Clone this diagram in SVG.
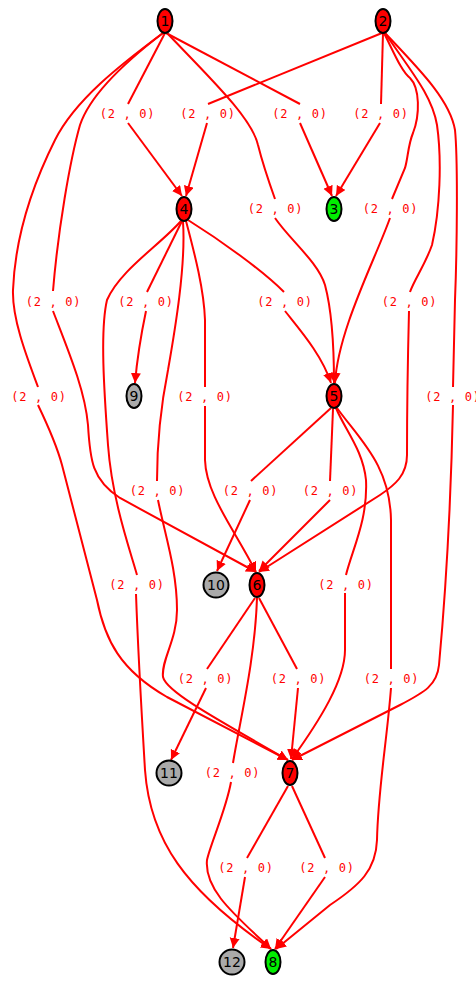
<svg xmlns="http://www.w3.org/2000/svg" width="476" height="981" viewBox="0 0 476 981">
<style>
.e{fill:none;stroke:#ff0000;stroke-width:2}
.a{marker-end:url(#arr)}
.l{font-family:"DejaVu Sans Mono","Liberation Mono",monospace;font-size:12px;fill:#ff0000;text-anchor:middle;letter-spacing:0.7px}
.n{stroke:#000;stroke-width:2}
.r{fill:#ff0000}.g{fill:#00ee00}.y{fill:#aaaaaa}
.t{font-family:"DejaVu Sans","Liberation Sans",sans-serif;font-size:14px;fill:#000;text-anchor:middle}
</style>
<defs>
<marker id="arr" markerUnits="userSpaceOnUse" markerWidth="11" markerHeight="11" refX="10" refY="5" orient="auto">
<path d="M0,0 L10,5 L0,10 z" fill="#ff0000"/>
</marker>
</defs>
<rect width="476" height="981" fill="#fff"/>
<g id="edges">
<g id="e1-4"><path class="e" d="M165,33 L128,104"/><path class="e a" d="M128,123 L182,196"/><text class="l" x="127.5" y="117.5">(2 , 0)</text></g>
<g id="e1-3"><path class="e" d="M166,33 L300,104"/><path class="e a" d="M300,123 L332,196"/><text class="l" x="300" y="117.5">(2 , 0)</text></g>
<g id="e2-4"><path class="e" d="M382,33 L208,104"/><path class="e a" d="M207,123 L186,196"/><text class="l" x="208" y="117.5">(2 , 0)</text></g>
<g id="e2-3"><path class="e" d="M383,33 L381,104"/><path class="e a" d="M380,123 L336,196"/><text class="l" x="381" y="117.5">(2 , 0)</text></g>
<g id="e1-5"><path class="e" d="M167,33 C210,78 252,118 258,145 C263,165 270,185 275,199"/><path class="e a" d="M275,218 C290,240 318,262 325,285 C333,315 334,350 334,383"/><text class="l" x="275.5" y="212.5">(2 , 0)</text></g>
<g id="e2-5"><path class="e" d="M384,33 C395,55 402,72 410,78 C420,88 420,115 413,133 C408,145 408,158 405,168 L392,199"/><path class="e a" d="M390,218 C375,260 338,330 335,383"/><text class="l" x="390.5" y="212.5">(2 , 0)</text></g>
<g id="e2-6"><path class="e" d="M385,33 C410,70 432,95 437,125 C442,160 440,210 432,245 C425,265 414,280 410,292"/><path class="e a" d="M409,311 C408,350 407,410 407,455 C407,475 395,485 380,495 L259,572"/><text class="l" x="409.5" y="305.5">(2 , 0)</text></g>
<g id="e2-7"><path class="e" d="M385,33 C420,70 450,100 455,130 C458,160 457,250 455,300 L453,387"/><path class="e a" d="M453,405 C451,500 445,600 439,665 C437,685 425,692 400,705 L292,760"/><text class="l" x="453" y="400.5">(2 , 0)</text></g>
<g id="e1-6"><path class="e" d="M163,33 C125,62 90,95 80,125 C70,160 58,230 53,291"/><path class="e a" d="M53,311 C68,350 85,390 88,425 C90,460 92,480 120,498 L256,572"/><text class="l" x="53.5" y="305.5">(2 , 0)</text></g>
<g id="e1-7"><path class="e" d="M163,33 C120,65 75,100 55,140 C30,190 15,240 13,290 C12,320 28,360 38,387"/><path class="e a" d="M38,405 C50,430 58,450 62,465 L97,600 C105,640 120,670 167,697 L288,760"/><text class="l" x="39" y="400.5">(2 , 0)</text></g>
<g id="e4-9"><path class="e" d="M182,221 L147,292"/><path class="e a" d="M146,311 C142,330 137,360 135,383"/><text class="l" x="146" y="305.5">(2 , 0)</text></g>
<g id="e4-5"><path class="e" d="M188,220 C220,240 262,270 284,292"/><path class="e a" d="M285,311 C300,330 322,355 331,383"/><text class="l" x="285" y="305.5">(2 , 0)</text></g>
<g id="e4-6"><path class="e" d="M186,221 C195,255 204,290 205,320 L205,387"/><path class="e a" d="M205,406 L205,460 C206,495 235,530 256,572"/><text class="l" x="205" y="400.5">(2 , 0)</text></g>
<g id="e4-7"><path class="e" d="M183,222 C186,265 175,330 168,370 C160,410 157,445 157,481"/><path class="e a" d="M158,500 C165,535 177,570 177,610 C177,640 161,660 163,677 C166,690 200,710 288,760"/><text class="l" x="157.5" y="494.5">(2 , 0)</text></g>
<g id="e4-8"><path class="e" d="M181,221 C160,245 120,270 107,300 C100,330 104,390 108,445 C112,500 130,550 137,575"/><path class="e a" d="M136,594 C138,650 142,720 145,770 C150,840 185,890 271,949"/><text class="l" x="137" y="588.5">(2 , 0)</text></g>
<g id="e5-10"><path class="e" d="M331,408 L251,481"/><path class="e a" d="M250,500 L217,571"/><text class="l" x="250.5" y="494.5">(2 , 0)</text></g>
<g id="e5-6"><path class="e" d="M333,409 L330,481"/><path class="e a" d="M330,500 L259,571"/><text class="l" x="330.5" y="494.5">(2 , 0)</text></g>
<g id="e5-7"><path class="e" d="M336,408 C345,430 363,450 366,480 C368,520 352,550 346,575"/><path class="e a" d="M345,593 L345,650 C345,680 320,720 292,759"/><text class="l" x="346" y="588.5">(2 , 0)</text></g>
<g id="e5-8"><path class="e" d="M337,408 C360,440 390,465 391,520 L391,669"/><path class="e a" d="M391,688 C387,740 378,790 377,840 C376,870 360,885 330,905 L276,949"/><text class="l" x="391.5" y="682.5">(2 , 0)</text></g>
<g id="e6-11"><path class="e" d="M255,598 L207,669"/><path class="e a" d="M206,688 L171,760"/><text class="l" x="205.5" y="682.5">(2 , 0)</text></g>
<g id="e6-7"><path class="e" d="M259,598 L297,669"/><path class="e a" d="M298,688 L291,759"/><text class="l" x="298.5" y="682.5">(2 , 0)</text></g>
<g id="e6-8"><path class="e" d="M257,598 C255,660 240,720 233,763"/><path class="e a" d="M231,782 C226,810 210,845 207,860 C204,890 235,915 271,949"/><text class="l" x="232.5" y="776.5">(2 , 0)</text></g>
<g id="e7-12"><path class="e" d="M288,786 L247,858"/><path class="e a" d="M245,877 L233,948"/><text class="l" x="246" y="871.5">(2 , 0)</text></g>
<g id="e7-8"><path class="e" d="M292,786 L325,858"/><path class="e a" d="M325,877 L275,949"/><text class="l" x="327" y="871.5">(2 , 0)</text></g>
</g>
<g id="n1"><ellipse class="n r" cx="165" cy="21" rx="7.5" ry="12"/><text class="t" x="165" y="26">1</text></g>
<g id="n2"><ellipse class="n r" cx="383" cy="21" rx="7.5" ry="12"/><text class="t" x="383" y="26">2</text></g>
<g id="n4"><ellipse class="n r" cx="184" cy="209" rx="7.5" ry="12"/><text class="t" x="184" y="214">4</text></g>
<g id="n3"><ellipse class="n g" cx="334" cy="209" rx="7.5" ry="12"/><text class="t" x="334" y="214">3</text></g>
<g id="n9"><ellipse class="n y" cx="134" cy="396" rx="7.5" ry="12"/><text class="t" x="134" y="401">9</text></g>
<g id="n5"><ellipse class="n r" cx="334" cy="396" rx="7.5" ry="12"/><text class="t" x="334" y="401">5</text></g>
<g id="n10"><circle class="n y" cx="216" cy="585" r="12.5"/><text class="t" x="216" y="590">10</text></g>
<g id="n6"><ellipse class="n r" cx="257" cy="585" rx="7.5" ry="12"/><text class="t" x="257" y="590">6</text></g>
<g id="n11"><circle class="n y" cx="169" cy="773" r="12.5"/><text class="t" x="169" y="778">11</text></g>
<g id="n7"><ellipse class="n r" cx="290" cy="773" rx="7.5" ry="12"/><text class="t" x="290" y="778">7</text></g>
<g id="n12"><circle class="n y" cx="232" cy="962" r="12.5"/><text class="t" x="232" y="967">12</text></g>
<g id="n8"><ellipse class="n g" cx="273" cy="962" rx="7.5" ry="12"/><text class="t" x="273" y="967">8</text></g>
</svg>
